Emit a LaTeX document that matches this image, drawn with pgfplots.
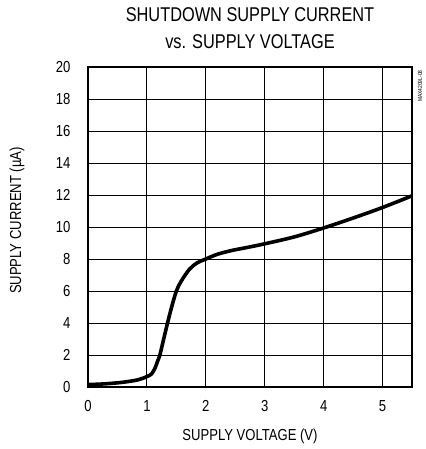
\documentclass[border=0pt]{standalone}
\usepackage{pgfplots}
\pgfplotsset{compat=1.18}
\usepackage{fontspec}
\setmainfont{Liberation Sans}[FakeStretch=0.82]
\begin{document}
\begin{tikzpicture}
\begin{axis}[
  scale only axis,
  width=324bp, height=320bp,
  xmin=0, xmax=5.5, ymin=0, ymax=20,
  xtick={0,1,2,3,4,5}, ytick={0,2,...,20},
  grid=major,
  major grid style={black, line width=0.9bp},
  major tick length=0pt,
  axis line style={line width=2.8bp},
  /pgf/number format/assume math mode=true,
  tick label style={font=\fontsize{16}{18}\selectfont},
  yticklabel style={xshift=-14bp},
  xticklabel style={yshift=-10bp},
  xlabel={SUPPLY VOLTAGE (V)},
  ylabel={SUPPLY CURRENT (µA)},
  label style={font=\fontsize{16}{18}\selectfont},
  xlabel style={at={(axis description cs:0.5,-0.153)}, anchor=center},
  ylabel style={at={(axis description cs:-0.219,0.52)}, anchor=center},
  clip=false,
]
\addplot[black, line width=3.6bp, smooth, tension=0.5] coordinates {
(0,0.15)(0.3,0.2)(0.6,0.3)(0.85,0.45)(1.0,0.65)(1.08,0.82)(1.14,1.2)(1.18,1.6)(1.22,2.0)(1.285,3.0)(1.35,4.0)(1.42,5.0)(1.5,6.0)(1.58,6.6)(1.72,7.35)(1.85,7.75)(2.0,8.0)(2.2,8.3)(2.45,8.54)(2.7,8.72)(3.0,8.95)(3.5,9.38)(4,9.94)(4.5,10.56)(5,11.22)(5.5,11.95)
};
\node[font=\fontsize{20}{22}\selectfont, anchor=center] at (axis description cs:0.5,1.1625) {SHUTDOWN SUPPLY CURRENT};
\node[font=\fontsize{20}{22}\selectfont, anchor=center] at (axis description cs:0.5,1.08) {vs. SUPPLY VOLTAGE};
\node[font=\fontsize{6}{7}\selectfont, rotate=90, anchor=east] at ([xshift=8bp]axis description cs:1,1) {MAX4209L-08};
\end{axis}
\path (-88bp,-62bp) rectangle (333bp,387bp);
\end{tikzpicture}
\end{document}
